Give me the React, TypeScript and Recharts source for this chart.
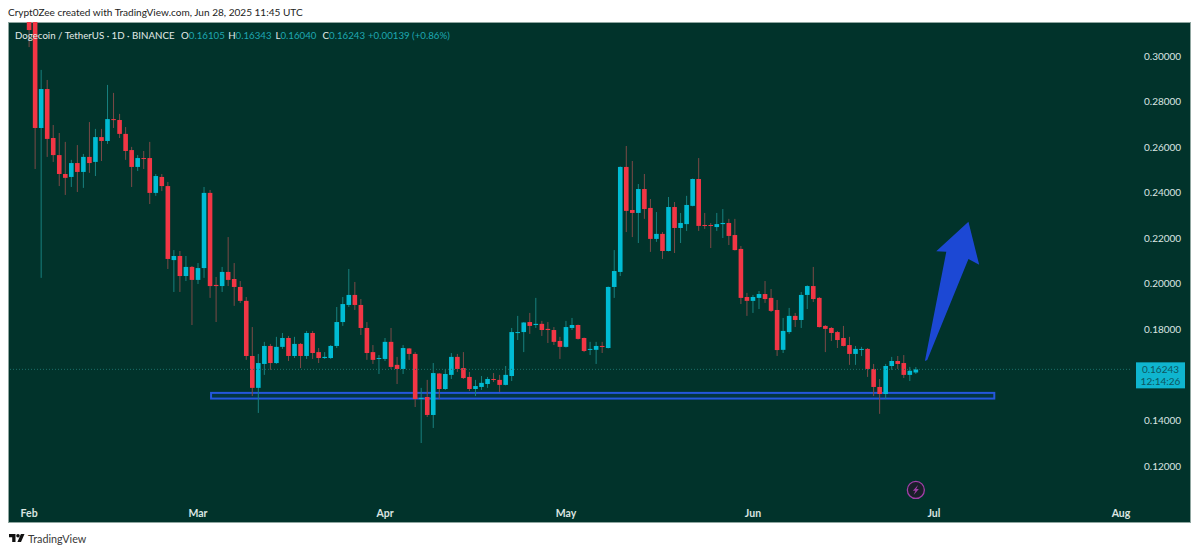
import { Bar, ComposedChart, ReferenceArea, ReferenceDot, ReferenceLine, XAxis, YAxis } from 'recharts';

const opens = [
  0.3300, 0.3160, 0.2684, 0.2855, 0.2640, 0.2565, 0.2482, 0.2469, 0.2530, 0.2491,
  0.2557, 0.2535, 0.2644, 0.2627, 0.2723, 0.2719, 0.2658, 0.2587, 0.2513, 0.2552,
  0.2552, 0.2399, 0.2469, 0.2429, 0.2104, 0.2122, 0.2034, 0.2074, 0.2017, 0.2069,
  0.2399, 0.1995, 0.1990, 0.2052, 0.2021, 0.1986, 0.1925, 0.1683, 0.1543, 0.1648,
  0.1727, 0.1652, 0.1723, 0.1762, 0.1683, 0.1736, 0.1683, 0.1784, 0.1700, 0.1674,
  0.1674, 0.1727, 0.1832, 0.1907, 0.1951, 0.1907, 0.1806, 0.1700, 0.1670, 0.1670,
  0.1745, 0.1644, 0.1626, 0.1716, 0.1692, 0.1494, 0.1503, 0.1424, 0.1606, 0.1538,
  0.1600, 0.1679, 0.1630, 0.1591, 0.1538, 0.1547, 0.1560, 0.1582, 0.1578, 0.1556,
  0.1595, 0.1784, 0.1788, 0.1832, 0.1819, 0.1824, 0.1802, 0.1797, 0.1749, 0.1723,
  0.1806, 0.1819, 0.1762, 0.1710, 0.1710, 0.1727, 0.1718, 0.1986, 0.2052, 0.2513,
  0.2324, 0.2311, 0.2416, 0.2333, 0.2197, 0.2219, 0.2144, 0.2337, 0.2245, 0.2262,
  0.2342, 0.2460, 0.2258, 0.2258, 0.2249, 0.2262, 0.2267, 0.2214, 0.2153, 0.1942,
  0.1925, 0.1938, 0.1955, 0.1938, 0.1885, 0.1710, 0.1788, 0.1859, 0.1841, 0.1951,
  0.1990, 0.1938, 0.1815, 0.1806, 0.1788, 0.1762, 0.1731, 0.1692, 0.1712, 0.1714,
  0.1626, 0.1547, 0.1516, 0.1639, 0.1661, 0.1652, 0.1600, 0.16105,
];
const highs = [
  0.3350, 0.3200, 0.2939, 0.2895, 0.2697, 0.2662, 0.2623, 0.2544, 0.2609, 0.2570,
  0.2710, 0.2680, 0.2680, 0.2873, 0.2838, 0.2746, 0.2688, 0.2601, 0.2565, 0.2583,
  0.2623, 0.2482, 0.2482, 0.2447, 0.2148, 0.2144, 0.2122, 0.2078, 0.2091, 0.2425,
  0.2412, 0.2030, 0.2074, 0.2205, 0.2091, 0.2012, 0.1942, 0.1810, 0.1692, 0.1745,
  0.1736, 0.1767, 0.1784, 0.1771, 0.1767, 0.1740, 0.1793, 0.1793, 0.1718, 0.1700,
  0.1731, 0.1898, 0.1942, 0.2065, 0.2008, 0.1933, 0.1832, 0.1731, 0.1687, 0.1762,
  0.1806, 0.1679, 0.1731, 0.1718, 0.1700, 0.1543, 0.1578, 0.1652, 0.1608, 0.1626,
  0.1696, 0.1692, 0.1700, 0.1613, 0.1578, 0.1595, 0.1591, 0.1608, 0.1600, 0.1639,
  0.1806, 0.1859, 0.1832, 0.1872, 0.1938, 0.1837, 0.1832, 0.1810, 0.1767, 0.1837,
  0.1850, 0.1821, 0.1764, 0.1745, 0.1745, 0.1745, 0.1988, 0.2148, 0.2515, 0.2605,
  0.2539, 0.2438, 0.2482, 0.2372, 0.2315, 0.2227, 0.2381, 0.2359, 0.2311, 0.2386,
  0.2462, 0.2552, 0.2311, 0.2267, 0.2311, 0.2328, 0.2285, 0.2285, 0.2166, 0.1960,
  0.1951, 0.1968, 0.2012, 0.1977, 0.1929, 0.1850, 0.1894, 0.1872, 0.1964, 0.1993,
  0.2074, 0.1942, 0.1819, 0.1810, 0.1793, 0.1815, 0.1767, 0.1727, 0.1723, 0.1718,
  0.1648, 0.1582, 0.1648, 0.1679, 0.1683, 0.1687, 0.1635, 0.16343,
];
const lows = [
  0.3039, 0.2504, 0.2026, 0.2557, 0.2535, 0.2429, 0.2390, 0.2425, 0.2403, 0.2421,
  0.2487, 0.2473, 0.2539, 0.2614, 0.2684, 0.2640, 0.2544, 0.2425, 0.2495, 0.2504,
  0.2350, 0.2386, 0.2407, 0.2065, 0.1964, 0.1964, 0.2012, 0.1819, 0.1999, 0.2026,
  0.1938, 0.1832, 0.1964, 0.1990, 0.1903, 0.1916, 0.1666, 0.1507, 0.1433, 0.1600,
  0.1622, 0.1648, 0.1714, 0.1661, 0.1674, 0.1630, 0.1670, 0.1670, 0.1652, 0.1670,
  0.1670, 0.1718, 0.1815, 0.1898, 0.1885, 0.1775, 0.1666, 0.1648, 0.1604, 0.1661,
  0.1626, 0.1560, 0.1604, 0.1666, 0.1459, 0.1301, 0.1415, 0.1367, 0.1494, 0.1534,
  0.1582, 0.1613, 0.1582, 0.1529, 0.1507, 0.1534, 0.1543, 0.1569, 0.1525, 0.1554,
  0.1573, 0.1753, 0.1700, 0.1780, 0.1806, 0.1771, 0.1740, 0.1731, 0.1670, 0.1720,
  0.1797, 0.1755, 0.1700, 0.1687, 0.1648, 0.1696, 0.1716, 0.1938, 0.2034, 0.2227,
  0.2205, 0.2179, 0.2285, 0.2140, 0.2184, 0.2109, 0.2142, 0.2135, 0.2179, 0.2232,
  0.2340, 0.2232, 0.2241, 0.2157, 0.2232, 0.2201, 0.2170, 0.2146, 0.1911, 0.1859,
  0.1872, 0.1889, 0.1916, 0.1876, 0.1683, 0.1696, 0.1780, 0.1810, 0.1806, 0.1889,
  0.1920, 0.1808, 0.1700, 0.1749, 0.1718, 0.1725, 0.1644, 0.1644, 0.1683, 0.1591,
  0.1507, 0.1429, 0.1494, 0.1622, 0.1626, 0.1586, 0.1573, 0.16040,
];
const closes = [
  0.3114, 0.2684, 0.2855, 0.2636, 0.2565, 0.2482, 0.2465, 0.2530, 0.2491, 0.2557,
  0.2530, 0.2644, 0.2627, 0.2723, 0.2719, 0.2658, 0.2583, 0.2513, 0.2552, 0.2548,
  0.2399, 0.2473, 0.2429, 0.2109, 0.2122, 0.2034, 0.2074, 0.2017, 0.2069, 0.2399,
  0.1990, 0.1990, 0.2052, 0.2017, 0.1986, 0.1925, 0.1683, 0.1543, 0.1652, 0.1727,
  0.1652, 0.1723, 0.1762, 0.1683, 0.1736, 0.1683, 0.1784, 0.1696, 0.1674, 0.1679,
  0.1727, 0.1832, 0.1911, 0.1951, 0.1907, 0.1806, 0.1696, 0.1666, 0.1674, 0.1745,
  0.1635, 0.1626, 0.1718, 0.1692, 0.1494, 0.1499, 0.1424, 0.1608, 0.1538, 0.1604,
  0.1679, 0.1626, 0.1586, 0.1538, 0.1551, 0.1565, 0.1582, 0.1578, 0.1556, 0.1600,
  0.1788, 0.1788, 0.1830, 0.1815, 0.1824, 0.1797, 0.1797, 0.1745, 0.1723, 0.1810,
  0.1819, 0.1758, 0.1705, 0.1714, 0.1727, 0.1723, 0.1986, 0.2056, 0.2513, 0.2320,
  0.2311, 0.2416, 0.2328, 0.2197, 0.2219, 0.2144, 0.2337, 0.2245, 0.2267, 0.2346,
  0.2460, 0.2254, 0.2254, 0.2254, 0.2262, 0.2267, 0.2210, 0.2148, 0.1938, 0.1925,
  0.1942, 0.1955, 0.1933, 0.1881, 0.1709, 0.1793, 0.1859, 0.1841, 0.1951, 0.1990,
  0.1933, 0.1810, 0.1802, 0.1784, 0.1753, 0.1727, 0.1692, 0.1714, 0.1714, 0.1626,
  0.1547, 0.1516, 0.1639, 0.1661, 0.1648, 0.1600, 0.1618, 0.16243,
];

const priceTicks = [0.12, 0.14, 0.18, 0.2, 0.22, 0.24, 0.26, 0.28, 0.3];
const monthTicks = ['2025-02-01', '2025-03-01', '2025-04-01', '2025-05-01', '2025-06-01', '2025-07-01', '2025-08-01'];
const monthLabels = ['Feb', 'Mar', 'Apr', 'May', 'Jun', 'Jul', 'Aug'];
const ohlcLabels = ['O', 'H', 'L', 'C'];
const ohlcValues = ['0.16105', '0.16343', '0.16040', '0.16243'];

const LAST_PRICE = 0.16243;
const SUPPORT = { from: '2025-03-03', to: '2025-07-11', top: 0.1521, bottom: 0.1496 };
const ARROW = { from: '2025-06-30', to: '2025-07-08', top: 0.2272, bottom: 0.1661 };

const UP = '#00bcd4';
const DOWN = '#f23645';
const UP_WICK = '#18807f';
const DOWN_WICK = '#7c4a47';
const BG = '#01332b';
const AXIS_TEXT = '#dbe5e2';
const VALUE_TEXT = '#1fa8b2';
const FONT = 'Lato, "Open Sans", sans-serif';

// three blank days before Feb 1, and the empty right side runs to Aug 2
const dayKey = (offset: number) => new Date(Date.UTC(2025, 0, 29 + offset)).toISOString().slice(0, 10);
const data = Array.from({ length: 186 }, (_, i) => {
  const c = i - 3;
  if (c < 0 || c >= closes.length) return { day: dayKey(i) };
  return { day: dayKey(i), open: opens[c], high: highs[c], low: lows[c], close: closes[c], range: [lows[c], highs[c]] };
});

function Candle(props: any) {
  const { x, y, width, height, payload } = props;
  if (!payload || payload.range == null) return null;
  const { open, high, low, close } = payload;
  const perUnit = height / (high - low);
  const cx = x + width / 2;
  const bodyTop = y + (high - Math.max(open, close)) * perUnit;
  const bodyH = Math.max(Math.abs(open - close) * perUnit, 1);
  const up = close >= open;
  return (
    <g>
      <line x1={cx} x2={cx} y1={y} y2={y + height} stroke={up ? UP_WICK : DOWN_WICK} strokeWidth={1} />
      <rect x={cx - 2.3} y={bodyTop} width={4.6} height={bodyH} fill={up ? UP : DOWN} />
    </g>
  );
}

// the drawn box starts inside the first day's band and stops inside the last one
function SupportBox(props: any) {
  const { x, y, width, height } = props;
  return <rect x={x + 4} y={y} width={width - 7} height={height} fill="#1c48d4" fillOpacity={0.12} stroke="#2457dc" strokeWidth={2} />;
}

function Arrow(props: any) {
  const { x, y, width: w, height: h } = props;
  const shape = [
    [0, 1], [0.394, 0.215], [0.209, 0.212], [0.802, 0], [1, 0.309], [0.802, 0.268], [0.043, 0.993],
  ];
  return <polygon points={shape.map(([a, b]) => `${x + a * w},${y + b * h}`).join(' ')} fill="#1c48d4" />;
}

function BoltIcon(props: any) {
  const { cx, cy } = props;
  return (
    <g>
      <circle cx={cx} cy={cy} r={8.5} fill="#1a1f2a" stroke="#a23ea8" strokeWidth={1.3} />
      <path d={`M${cx + 2.2} ${cy - 5} L${cx - 3} ${cy + 0.8} L${cx - 0.4} ${cy + 0.8} L${cx - 2.2} ${cy + 5} L${cx + 3} ${cy - 1} L${cx + 0.4} ${cy - 1} Z`} fill="#a23ea8" />
    </g>
  );
}

function PriceTag(props: any) {
  const { viewBox } = props;
  if (!viewBox) return null;
  const tx = viewBox.x + viewBox.width + 6;
  const ty = viewBox.y;
  return (
    <g fontFamily={FONT} fontSize={10} fill="#0d5560" textAnchor="middle">
      <rect x={tx} y={ty - 7} width={49} height={26} fill="#0fb5cf" />
      <text x={tx + 24.5} y={ty + 3.5}>0.16243</text>
      <text x={tx + 24.5} y={ty + 15.5}>12:14:26</text>
    </g>
  );
}

export default function App() {
  return (
    <div style={{ position: 'absolute', left: 0, top: 0, width: 1200, height: 553, background: '#fff', overflow: 'hidden', fontFamily: FONT }}>
      <div style={{ position: 'absolute', left: 8, top: 6, fontSize: 10.05, color: '#222', whiteSpace: 'nowrap' }}>
        Crypt0Zee created with TradingView.com, Jun 28, 2025 11:45 UTC
      </div>
      <div style={{ position: 'absolute', left: 8, top: 22, width: 1183, height: 501, background: BG, overflow: 'hidden', boxShadow: 'inset 0 0 0 1px #8fa6a0' }}>
        <ComposedChart width={1183} height={501} data={data} margin={{ top: 0, right: 0, bottom: 0, left: 0 }} barCategoryGap={0}>
          <XAxis
            dataKey="day"
            ticks={monthTicks}
            interval={0}
            height={23}
            tickLine={false}
            axisLine={false}
            tick={{ fill: AXIS_TEXT, fontSize: 10.5, fontWeight: 700, fontFamily: FONT }}
            tickMargin={4}
            tickFormatter={(d: string) => monthLabels[monthTicks.indexOf(d)]}
          />
          <YAxis
            orientation="right"
            width={61}
            domain={[0.10507, 0.31493]}
            allowDataOverflow
            ticks={priceTicks}
            interval={0}
            tickLine={false}
            axisLine={false}
            tickMargin={8}
            tick={{ fill: AXIS_TEXT, fontSize: 10, fontFamily: FONT, textAnchor: 'start' }}
            tickFormatter={(v: number) => v.toFixed(5)}
          />
          <ReferenceLine y={LAST_PRICE} stroke="#1c6f69" strokeDasharray="1 2" label={<PriceTag />} />
          <Bar dataKey="range" shape={<Candle />} isAnimationActive={false} />
          <ReferenceArea x1={SUPPORT.from} x2={SUPPORT.to} y1={SUPPORT.bottom} y2={SUPPORT.top} shape={<SupportBox />} />
          <ReferenceArea x1={ARROW.from} x2={ARROW.to} y1={ARROW.bottom} y2={ARROW.top} shape={<Arrow />} />
          <ReferenceDot x="2025-06-28" y={0.1095} r={8} shape={<BoltIcon />} />
        </ComposedChart>
        <div style={{ position: 'absolute', left: 7, top: 7, fontSize: 9.7, color: '#e3ebe8', whiteSpace: 'nowrap' }}>
          Dogecoin / TetherUS · 1D · BINANCE
        </div>
        {ohlcLabels.map((l, i) => (
          <div key={l} style={{ position: 'absolute', left: 173 + i * 47.2, top: 7, fontSize: 9.7, color: '#e3ebe8', whiteSpace: 'nowrap' }}>
            {l}<span style={{ color: VALUE_TEXT }}>{ohlcValues[i]}</span>
          </div>
        ))}
        <div style={{ position: 'absolute', left: 360, top: 7, fontSize: 9.7, color: VALUE_TEXT, whiteSpace: 'nowrap' }}>
          +0.00139 (+0.86%)
        </div>
      </div>
      <svg style={{ position: 'absolute', left: 9, top: 534 }} width={16} height={9} viewBox="0 0 16 9">
        <path d="M0 0H6.5V8H3.2V3.2H0Z M15.5 0L12 8H8.4L11.9 0Z" fill="#111" />
        <circle cx={9} cy={1.8} r={1.8} fill="#111" />
      </svg>
      <div style={{ position: 'absolute', left: 28, top: 532, fontSize: 10.8, color: '#3a3a3a' }}>TradingView</div>
    </div>
  );
}
